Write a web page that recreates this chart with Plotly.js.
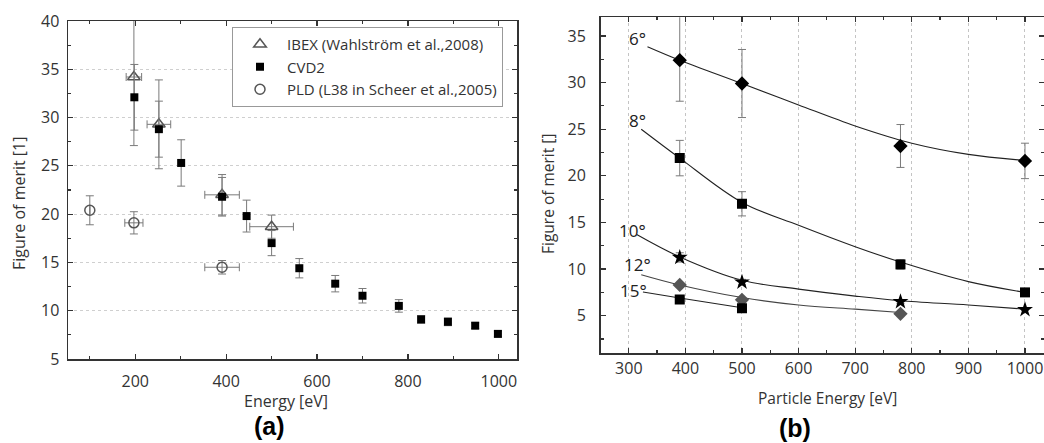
<!DOCTYPE html>
<html>
<head>
<meta charset="utf-8">
<script src="https://cdn.plot.ly/plotly-3.0.1.min.js"></script>
<style>html,body{margin:0;padding:0;background:#fff;}#chart{width:1044px;height:443px;}</style>
</head>
<body>
<div id="chart"></div>
<script>
// ---------- Panel (a) data ----------
const ibexEnergy = [197, 252, 391, 500];
const ibexMerit = [34.2, 29.3, 22.0, 18.7];
const ibexMeritErr = [7.1, 4.6, 2.1, 1.2];
const ibexEnergyErr = [17, 26, 38, 48];

const cvdEnergy = [198, 252, 301, 391, 445, 500, 561, 640, 700, 780, 829, 888, 948, 998];
const cvdMerit = [32.1, 28.8, 25.3, 21.8, 19.8, 17.0, 14.4, 12.8, 11.55, 10.5, 9.1, 8.85, 8.45, 7.6];
const cvdMeritErr = [3.4, 2.9, 2.4, 2.0, 1.65, 1.3, 1.0, 0.85, 0.75, 0.65, 0.4, 0.4, 0.3, 0.3];

const pldEnergy = [100, 197, 391];
const pldMerit = [20.4, 19.1, 14.5];
const pldMeritErr = [1.5, 1.15, 0.7];
const pldEnergyErr = [0, 20, 38];

const legendNames = ["IBEX (Wahlström et al.,2008)", "CVD2", "PLD (L38 in Scheer et al.,2005)"];

// ---------- Panel (b) data ----------
const angleLabels = ["6°", "8°", "10°", "12°", "15°"];
const labelEnergy = [315, 316, 306, 315, 309];
const labelMerit = [34.7, 25.9, 14.1, 10.45, 7.75];

const pEnergy6 = [390, 500, 780, 1000];
const pMerit6 = [32.4, 29.9, 23.2, 21.6];
const pErrPlus6 = [4.8, 3.65, 2.3, 1.9];
const pErrMinus6 = [4.4, 3.65, 2.3, 1.9];
const fitEnergy6 = [333, 390, 500, 600, 700, 800, 900, 1000];
const fitMerit6 = [33.85, 32.4, 29.9, 27.6, 25.35, 23.5, 22.3, 21.65];

const pEnergy8 = [390, 500, 780, 1000];
const pMerit8 = [21.9, 17.0, 10.5, 7.5];
const pErr8 = [1.9, 1.3, 0.5, 0.2];
const fitEnergy8 = [322, 390, 500, 600, 700, 780, 900, 1000];
const fitMerit8 = [25.0, 21.9, 17.15, 14.7, 12.4, 10.75, 8.65, 7.5];

const pEnergy10 = [390, 500, 780, 1000];
const pMerit10 = [11.25, 8.6, 6.5, 5.65];
const pErr10 = [0.5, 0.3, 0.2, 0.1];
const fitEnergy10 = [314, 390, 500, 600, 700, 780, 900, 1000];
const fitMerit10 = [13.7, 11.3, 8.8, 7.85, 7.1, 6.6, 6.15, 5.7];

const pEnergy12 = [390, 500, 780];
const pMerit12 = [8.3, 6.7, 5.2];
const fitEnergy12 = [322, 390, 500, 600, 700, 780];
const fitMerit12 = [9.4, 8.3, 6.95, 6.15, 5.7, 5.35];

const pEnergy15 = [390, 500];
const pMerit15 = [6.75, 5.8];
const fitEnergy15 = [325, 390, 500];
const fitMerit15 = [7.55, 6.9, 5.85];

// ---------- styles ----------
const W = 1044, H = 443;
const FONT = "Open Sans, Noto Sans, sans-serif";
const errColor = "#7a7a7a";
const axisColor = "#333333";

function errY(arr, minus) {
  const o = {type: "data", array: arr, visible: true, color: errColor, thickness: 1, width: 4};
  if (minus) { o.symmetric = false; o.arrayminus = minus; }
  return o;
}
function errX(arr) {
  return {type: "data", array: arr, visible: true, color: errColor, thickness: 1, width: 4};
}

const traces = [];
// Panel (a)
traces.push({
  x: ibexEnergy, y: ibexMerit, xaxis: "x", yaxis: "y", mode: "markers", type: "scatter",
  name: legendNames[0],
  error_y: errY(ibexMeritErr), error_x: errX(ibexEnergyErr),
  marker: {symbol: "triangle-up-open", size: 11, color: "#555", line: {width: 1.5, color: "#555"}}
});
traces.push({
  x: cvdEnergy, y: cvdMerit, xaxis: "x", yaxis: "y", mode: "markers", type: "scatter",
  name: legendNames[1],
  error_y: errY(cvdMeritErr),
  marker: {symbol: "square", size: 8, color: "#000"}
});
traces.push({
  x: pldEnergy, y: pldMerit, xaxis: "x", yaxis: "y", mode: "markers", type: "scatter",
  name: legendNames[2],
  error_y: errY(pldMeritErr), error_x: errX(pldEnergyErr),
  marker: {symbol: "circle-open", size: 10, color: "#555", line: {width: 1.5, color: "#555"}}
});

// Panel (b) fitted curves
const fitSets = [
  [fitEnergy6, fitMerit6, "#222"],
  [fitEnergy8, fitMerit8, "#222"],
  [fitEnergy10, fitMerit10, "#222"],
  [fitEnergy12, fitMerit12, "#444"],
  [fitEnergy15, fitMerit15, "#222"]
];
fitSets.forEach(f => traces.push({
  x: f[0], y: f[1], xaxis: "x2", yaxis: "y2", mode: "lines", type: "scatter",
  showlegend: false, hoverinfo: "skip",
  line: {shape: "spline", smoothing: 1, width: 1.1, color: f[2]}
}));

// Panel (b) points
traces.push({x: pEnergy6, y: pMerit6, xaxis: "x2", yaxis: "y2", mode: "markers", type: "scatter", showlegend: false,
  error_y: errY(pErrPlus6, pErrMinus6), marker: {symbol: "diamond", size: 11, color: "#000"}});
traces.push({x: pEnergy8, y: pMerit8, xaxis: "x2", yaxis: "y2", mode: "markers", type: "scatter", showlegend: false,
  error_y: errY(pErr8), marker: {symbol: "square", size: 10, color: "#000"}});
traces.push({x: pEnergy10, y: pMerit10, xaxis: "x2", yaxis: "y2", mode: "markers", type: "scatter", showlegend: false,
  error_y: errY(pErr10), marker: {symbol: "star", size: 12, color: "#000"}});
traces.push({x: pEnergy12, y: pMerit12, xaxis: "x2", yaxis: "y2", mode: "markers", type: "scatter", showlegend: false,
  marker: {symbol: "diamond", size: 11, color: "#555"}});
traces.push({x: pEnergy15, y: pMerit15, xaxis: "x2", yaxis: "y2", mode: "markers", type: "scatter", showlegend: false,
  marker: {symbol: "square", size: 10, color: "#000"}});

function baseAxis(extra) {
  return Object.assign({
    showline: true, linecolor: axisColor, linewidth: 1.5, mirror: "ticks",
    ticks: "inside", ticklen: 5, tickwidth: 1.2, tickcolor: axisColor,
    zeroline: false, tickfont: {family: FONT, size: 16, color: "#333"},
    fixedrange: true
  }, extra);
}

const annotations = [];
for (let i = 0; i < angleLabels.length; i++) {
  annotations.push({xref: "x2", yref: "y2", x: labelEnergy[i], y: labelMerit[i], text: angleLabels[i],
    showarrow: false, font: {family: FONT, size: 17, color: "#222"}, xanchor: "center", yanchor: "middle"});
}
function paperText(px, py, text, size, opts) {
  annotations.push(Object.assign({xref: "paper", yref: "paper", x: px / W, y: 1 - py / H, text: text,
    showarrow: false, xanchor: "center", yanchor: "middle",
    font: {family: FONT, size: size, color: "#333"}}, opts || {}));
}
paperText(286, 401, "Energy [eV]", 16);
paperText(827, 398, "Particle Energy [eV]", 15.5);
paperText(19, 203, "Figure of merit [1]", 16, {textangle: -90});
paperText(548, 194, "Figure of merit []", 15.5, {textangle: -90});
paperText(269, 426, "(a)", 25, {font: {family: "Liberation Sans, Arial, sans-serif", size: 25, color: "#000", weight: "bold"}});
paperText(795, 428, "(b)", 25, {font: {family: "Liberation Sans, Arial, sans-serif", size: 25, color: "#000", weight: "bold"}});

const layout = {
  width: W, height: H,
  margin: {l: 0, r: 0, t: 0, b: 0, pad: 0},
  paper_bgcolor: "#fff", plot_bgcolor: "#fff",
  font: {family: FONT, color: "#333"},
  showlegend: true,
  legend: {
    x: 232 / W, y: 1 - 27 / H, xanchor: "left", yanchor: "top",
    bgcolor: "#fff", bordercolor: "#999", borderwidth: 1,
    font: {family: FONT, size: 15, color: "#333"},
    itemwidth: 44, tracegroupgap: 0
  },
  xaxis: baseAxis({
    domain: [68 / W, 517 / W], range: [52, 1040], anchor: "y",
    tick0: 0, dtick: 200, showgrid: false, ticklabelstandoff: 7,
    minor: {dtick: 100, ticks: "inside", ticklen: 3, tickcolor: axisColor, showgrid: false}
  }),
  yaxis: baseAxis({
    domain: [(H - 359) / H, (H - 21) / H], range: [5, 40], anchor: "x",
    tick0: 0, dtick: 5, showgrid: true, gridcolor: "#cfcfcf", griddash: "dot", gridwidth: 1,
    ticklabelstandoff: 4,
    minor: {dtick: 2.5, ticks: "inside", ticklen: 3, tickcolor: axisColor, showgrid: false}
  }),
  xaxis2: baseAxis({
    domain: [600.5 / W, 1], range: [250, 1033.6], anchor: "y2",
    tick0: 0, dtick: 100, showgrid: true, gridcolor: "#c4c4c4", griddash: "dot", gridwidth: 1,
    ticklabelstandoff: 0,
    minor: {dtick: 50, ticks: "inside", ticklen: 3, tickcolor: axisColor, showgrid: false}
  }),
  yaxis2: baseAxis({
    domain: [(H - 353) / H, (H - 17.3) / H], range: [1, 37], anchor: "x2",
    tick0: 0, dtick: 5, showgrid: false, ticklabelstandoff: 10,
    minor: {dtick: 2.5, ticks: "inside", ticklen: 3, tickcolor: axisColor, showgrid: false}
  }),
  annotations: annotations
};

Plotly.newPlot("chart", traces, layout, {displayModeBar: false, staticPlot: true});
</script>
</body>
</html>
